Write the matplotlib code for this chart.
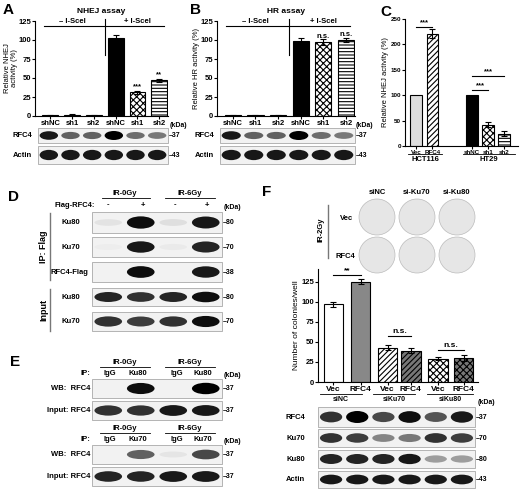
import matplotlib
matplotlib.use("Agg")
import matplotlib.pyplot as plt
from matplotlib.patches import Ellipse, Rectangle, Circle

plt.rcParams["font.family"] = ["Liberation Sans", "DejaVu Sans"]
plt.rcParams["font.weight"] = "bold"
plt.rcParams["font.size"] = 5.5
plt.rcParams["hatch.linewidth"] = 0.8

W, H = 520, 490

# ---- data ----
SH_LABELS = ["shNC", "sh1", "sh2", "shNC", "sh1", "sh2"]
NHEJ_VALUES = [1.0, 1.5, 1.0, 103, 31, 47]
NHEJ_ERR = [0.5, 0.5, 0.5, 3, 2.5, 2]
HR_VALUES = [1.0, 1.0, 1.0, 99, 97, 100]
HR_ERR = [0.5, 0.5, 0.5, 3, 4, 3]

C_LABELS = ["Vec", "RFC4", "shNC", "sh1", "sh2"]
C_VALUES = [100, 221, 100, 42, 24]
C_ERR = [0, 9, 0, 5, 5]

F_LABELS = ["Vec", "RFC4", "Vec", "RFC4", "Vec", "RFC4"]
F_GROUPS = ["siNC", "siKu70", "siKu80"]
F_VALUES = [97, 125, 43, 39, 29, 30]
F_ERR = [3, 3, 3, 3, 2, 4]

BLOT_A_RFC4 = [0.9, 0.6, 0.6, 1.0, 0.55, 0.5]
BLOT_B_RFC4 = [0.9, 0.6, 0.6, 1.0, 0.55, 0.5]
BLOT_ACTIN6 = [0.9, 0.9, 0.9, 0.9, 0.9, 0.9]

D_ROWS = ["Ku80", "Ku70", "RFC4-Flag", "Ku80", "Ku70"]
D_MARKERS = ["80", "70", "38", "80", "70"]
D_BANDS = [[0.06, 0.95, 0.08, 0.9],
           [0.02, 0.9, 0.03, 0.85],
           [0.0, 0.95, 0.0, 0.9],
           [0.85, 0.8, 0.85, 0.95],
           [0.8, 0.75, 0.8, 0.95]]

E_KU80_WB = [0.0, 0.95, 0.0, 1.0]
E_KU80_IN = [0.8, 0.8, 0.9, 0.9]
E_KU70_WB = [0.0, 0.6, 0.05, 0.7]
E_KU70_IN = [0.85, 0.85, 0.9, 0.9]

F_ROWS = ["RFC4", "Ku70", "Ku80", "Actin"]
F_MARKERS = ["37", "70", "80", "43"]
F_BANDS = [[0.8, 1.0, 0.7, 0.95, 0.65, 0.9],
           [0.8, 0.75, 0.45, 0.5, 0.8, 0.75],
           [0.85, 0.85, 0.85, 0.9, 0.35, 0.35],
           [0.9, 0.9, 0.9, 0.9, 0.9, 0.9]]

FACE6 = ["black", "#888888", "white", "black", "#888888", "white"]
HATCH6 = [None, None, None, None, "xxxxx", "-----"]


fig = plt.figure(figsize=(W / 100, H / 100), dpi=100)
bg = fig.add_axes([0, 0, 1, 1])
bg.set_xlim(0, W)
bg.set_ylim(H, 0)
bg.axis("off")


def px_axes(left, top, right, bottom):
    ax = fig.add_axes([left / W, 1 - bottom / H, (right - left) / W, (bottom - top) / H])
    ax.set_facecolor("none")
    for side in ("top", "right"):
        ax.spines[side].set_visible(False)
    ax.tick_params(length=2, width=0.8, pad=1, labelsize=5.5)
    return ax


def blot(x0, y0, x1, y1, bands, marker=None):
    bg.add_patch(Rectangle((x0, y0), x1 - x0, y1 - y0, fc="#f2f2f2", ec="#999999", lw=0.5))
    n = len(bands)
    step = (x1 - x0) / n
    for i, a in enumerate(bands):
        if a > 0:
            bg.add_patch(Ellipse((x0 + step * (i + 0.5), (y0 + y1) / 2), step * 0.85,
                                 (y1 - y0) * (0.3 + 0.3 * a), color="black", alpha=a, lw=0))
    if marker:
        bg.text(x1 + 1, (y0 + y1) / 2, "–" + marker, va="center", ha="left", fontsize=5)


def assay_bars(ax, values, err):
    x = range(len(values))
    for i, v in enumerate(values):
        ax.bar(i, v, 0.72, color=FACE6[i] if HATCH6[i] is None else "white",
               hatch=HATCH6[i], edgecolor="black", lw=0.8)
        ax.errorbar(i, v, yerr=err[i], color="black", capsize=2, lw=0.8, capthick=0.8)
    ax.set_xticks(list(x))
    ax.set_xticklabels(SH_LABELS)
    ax.set_xlim(-0.7, 5.4)
    ax.set_ylim(0, 125)
    ax.set_yticks([0, 25, 50, 75, 100, 125])
    ax.plot([-0.3, 5.2], [118, 118], color="black", lw=0.8, clip_on=False)
    ax.plot([2.5, 2.5], [80, 128], color="black", lw=0.8, clip_on=False)
    ax.text(1.0, 120, "– I-SceI", ha="center", va="bottom")
    ax.text(4.0, 120, "+ I-SceI", ha="center", va="bottom")


# ---- A ----
axA = px_axes(35, 21, 168, 116)
assay_bars(axA, NHEJ_VALUES, NHEJ_ERR)
axA.set_ylabel("Relative NHEJ\nactivity (%)", labelpad=0, linespacing=1.0, fontsize=5.5)
axA.set_title("NHEJ assay", fontsize=6, fontweight="bold", pad=6)
axA.text(4, NHEJ_VALUES[4] + 5, "***", ha="center")
axA.text(5, NHEJ_VALUES[5] + 5, "**", ha="center")
bg.text(3, 10, "A", fontsize=11, fontweight="bold", va="center")
blot(38, 128, 168, 143, BLOT_A_RFC4, "37")
blot(38, 146, 168, 164, BLOT_ACTIN6, "43")
bg.text(32, 135, "RFC4", ha="right", va="center")
bg.text(32, 155, "Actin", ha="right", va="center")
bg.text(170, 125, "(kDa)", fontsize=5, va="center")

# ---- B ----
axB = px_axes(217, 21, 355, 116)
assay_bars(axB, HR_VALUES, HR_ERR)
axB.set_ylabel("Relative HR activity (%)", labelpad=0, fontsize=5.5)
axB.set_title("HR assay", fontsize=6, fontweight="bold", pad=6)
axB.text(4, HR_VALUES[4] + 5, "n.s.", ha="center")
axB.text(5, HR_VALUES[5] + 5, "n.s.", ha="center")
bg.text(190, 10, "B", fontsize=11, fontweight="bold", va="center")
blot(220, 128, 355, 143, BLOT_B_RFC4, "37")
blot(220, 146, 355, 164, BLOT_ACTIN6, "43")
bg.text(214, 135, "RFC4", ha="right", va="center")
bg.text(214, 155, "Actin", ha="right", va="center")
bg.text(356, 125, "(kDa)", fontsize=5, va="center")

# ---- C ----
axC = px_axes(405, 19, 518, 146)
c_pos = [0, 1, 3.45, 4.45, 5.45]
c_face = ["#dddddd", "white", "black", "white", "white"]
c_hatch = [None, "//////", None, "xxxxx", "-----"]
for p, v, e, fc, h in zip(c_pos, C_VALUES, C_ERR, c_face, c_hatch):
    axC.bar(p, v, 0.72, color=fc, hatch=h, edgecolor="black", lw=0.8)
    if e:
        axC.errorbar(p, v, yerr=e, color="black", capsize=2, lw=0.8, capthick=0.8)
axC.set_xlim(-0.7, 6.3)
axC.set_ylim(0, 250)
axC.set_yticks([0, 50, 100, 150, 200, 250])
axC.set_xticks(c_pos)
axC.set_xticklabels(C_LABELS)
axC.tick_params(axis="both", labelsize=4.5)
axC.set_ylabel("Relative NHEJ activity (%)", labelpad=1, fontsize=5.5)
for y, x0, x1 in [(235, 0, 1), (110, 3.45, 4.45), (138, 3.45, 5.45)]:
    axC.plot([x0, x1], [y, y], color="black", lw=0.8)
    axC.text((x0 + x1) / 2, y + 1, "***", ha="center", va="bottom")
bg.text(380, 12, "C", fontsize=11, fontweight="bold", va="center")
bg.plot([408, 442], [154, 154], color="black", lw=0.6)
bg.plot([463, 515], [154, 154], color="black", lw=0.6)
bg.text(425, 159, "HCT116", ha="center", va="center")
bg.text(489, 159, "HT29", ha="center", va="center")

# ---- D ----
bg.text(8, 197, "D", fontsize=11, fontweight="bold", va="center")
bg.text(125, 193, "IR-0Gy", ha="center", va="center")
bg.text(190, 193, "IR-6Gy", ha="center", va="center")
bg.plot([102, 150], [198, 198], color="black", lw=0.6)
bg.plot([165, 215], [198, 198], color="black", lw=0.6)
bg.text(95, 205, "Flag-RFC4:", ha="right", va="center")
for x, s in zip([108, 143, 175, 207], ["-", "+", "-", "+"]):
    bg.text(x, 205, s, ha="center", va="center")
bg.text(224, 207, "(kDa)", fontsize=5, va="center")
d_boxes = [(212, 233), (237, 257), (262, 282), (288, 306), (312, 331)]
for (y0, y1), name, mk, bands in zip(d_boxes, D_ROWS, D_MARKERS, D_BANDS):
    blot(92, y0, 222, y1, bands, mk)
    bg.text(88 if name == "RFC4-Flag" else 80, (y0 + y1) / 2, name, ha="right", va="center")
bg.plot([50, 50], [213, 280], color="#777777", lw=1)
bg.plot([50, 50], [289, 331], color="#777777", lw=1)
bg.text(44, 247, "IP: Flag", rotation=90, ha="center", va="center", fontsize=6.5)
bg.text(44, 310, "Input", rotation=90, ha="center", va="center", fontsize=6.5)

# ---- E ----
bg.text(10, 362, "E", fontsize=11, fontweight="bold", va="center")
for top, ip, wb, inp in [(362, "Ku80", E_KU80_WB, E_KU80_IN), (428, "Ku70", E_KU70_WB, E_KU70_IN)]:
    bg.text(125, top, "IR-0Gy", ha="center", va="center")
    bg.text(190, top, "IR-6Gy", ha="center", va="center")
    bg.plot([100, 150], [top + 5, top + 5], color="black", lw=0.6)
    bg.plot([165, 215], [top + 5, top + 5], color="black", lw=0.6)
    bg.text(90, top + 11, "IP:", ha="right", va="center")
    for x, s in zip([110, 138, 177, 203], ["IgG", ip, "IgG", ip]):
        bg.text(x, top + 11, s, ha="center", va="center")
    bg.text(224, top + 13, "(kDa)", fontsize=5, va="center")
    blot(92, top + 17, 222, top + 36, wb, "37")
    blot(92, top + 39, 222, top + 58, inp, "37")
    bg.text(90, top + 26, "WB:  RFC4", ha="right", va="center")
    bg.text(90, top + 48, "Input: RFC4", ha="right", va="center")

# ---- F ----
bg.text(262, 192, "F", fontsize=11, fontweight="bold", va="center")
for cx, g in zip([377, 417, 457], ["siNC", "si-Ku70", "si-Ku80"]):
    bg.text(cx, 192, g, ha="center", va="center")
    for cy in (217, 255):
        bg.add_patch(Circle((cx, cy), 18, fc="#e6e6e6", ec="#bbbbbb", lw=0.5))
bg.text(347, 218, "Vec", ha="center", va="center")
bg.text(345, 256, "RFC4", ha="center", va="center")
bg.plot([328, 328], [205, 258], color="#777777", lw=1)
bg.text(321, 230, "IR-2Gy", rotation=90, ha="center", va="center")

axF = px_axes(318, 269, 478, 382)
f_face = ["white", "#888888", "white", "#777777", "white", "#777777"]
f_hatch = [None, None, "//////", "//////", "xxxxx", "xxxxx"]
f_pos = [0, 1.05, 2.1, 3.0, 4.05, 5.05]
for p, v, e, fc, h in zip(f_pos, F_VALUES, F_ERR, f_face, f_hatch):
    axF.bar(p, v, 0.75, color=fc, hatch=h, edgecolor="black", lw=0.8)
    axF.errorbar(p, v, yerr=e, color="black", capsize=2, lw=0.8, capthick=0.8)
axF.set_xlim(-0.6, 5.6)
axF.set_ylim(0, 141)
axF.set_yticks([0, 25, 50, 75, 100, 125])
axF.set_xticks(f_pos)
axF.set_xticklabels(F_LABELS, fontsize=6)
axF.set_ylabel("Number of colonies/well", labelpad=1, fontsize=6)
for y, x0, x1, s in [(133, 0, 1.05, "**"), (58, 2.1, 3.0, "n.s."), (40, 4.05, 5.05, "n.s.")]:
    axF.plot([x0, x1], [y, y], color="black", lw=0.8, clip_on=False)
    axF.text((x0 + x1) / 2, y + 1, s, ha="center", va="bottom", fontsize=6)
for x0, x1, g in [(320, 362, "siNC"), (373, 415, "siKu70"), (427, 473, "siKu80")]:
    bg.plot([x0, x1], [394, 394], color="black", lw=0.6)
    bg.text((x0 + x1) / 2, 399, g, ha="center", va="center", fontsize=5)
bg.text(478, 402, "(kDa)", fontsize=5, va="center")
f_boxes = [(407, 427), (429, 447), (450, 468), (471, 488)]
for (y0, y1), name, mk, bands in zip(f_boxes, F_ROWS, F_MARKERS, F_BANDS):
    blot(318, y0, 475, y1, bands, mk)
    bg.text(305, (y0 + y1) / 2, name, ha="right", va="center")

fig.savefig("out.png", dpi=100)
